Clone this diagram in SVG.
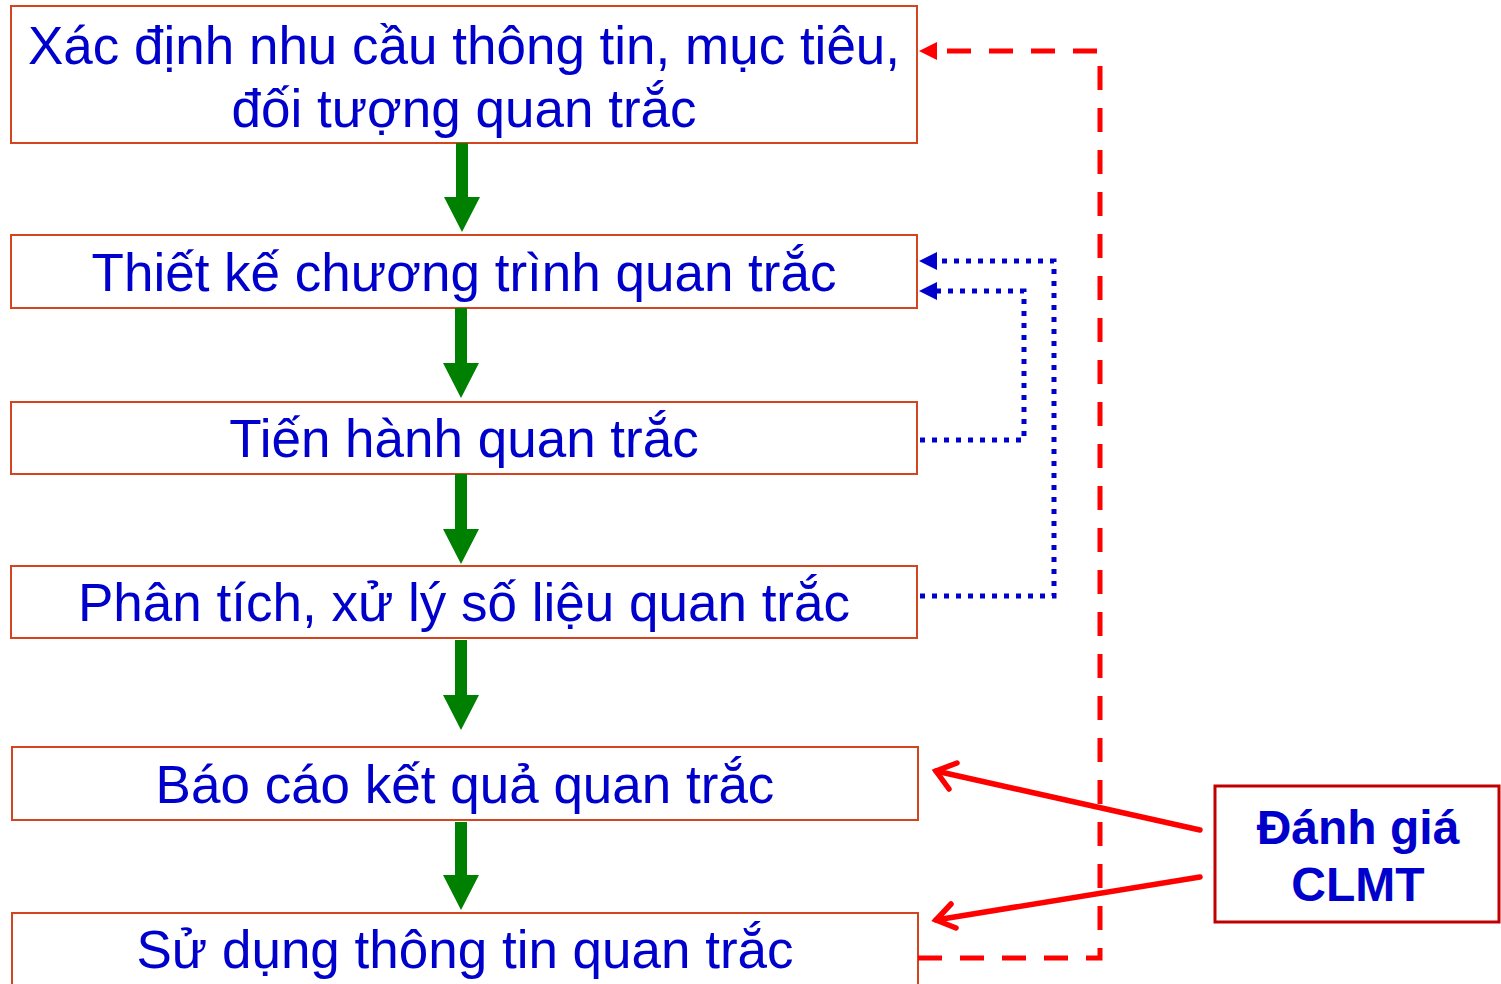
<svg xmlns="http://www.w3.org/2000/svg" width="1501" height="984" viewBox="0 0 1501 984">
  <style>
    .box { fill: #ffffff; stroke: #D2451E; stroke-width: 2; }
    .lbl { font-family: "Liberation Sans", Arial, sans-serif; font-size: 53px; fill: #0000CC; text-anchor: middle; }
    .eval { fill: #ffffff; stroke: #C00000; stroke-width: 3; }
    .evlbl { font-family: "Liberation Sans", Arial, sans-serif; font-size: 48px; font-weight: bold; fill: #0000CC; text-anchor: middle; }
    .flow { fill: #008000; }
    .fb { fill: none; stroke: #FF0000; stroke-width: 5; stroke-dasharray: 24 18; }
    .dot { fill: none; stroke: #0000CC; stroke-width: 5; stroke-dasharray: 5 7; }
    .ev { fill: none; stroke: #FF0000; stroke-width: 5.5; stroke-linecap: round; }
  </style>

  <g id="node-xac-dinh">
    <rect class="box" x="11" y="6" width="906" height="137"/>
    <text class="lbl" x="464" y="64">Xác định nhu cầu thông tin, mục tiêu,</text>
    <text class="lbl" x="464" y="127">đối tượng quan trắc</text>
  </g>
  <g id="node-thiet-ke">
    <rect class="box" x="11" y="235" width="906" height="73"/>
    <text class="lbl" x="464" y="291">Thiết kế chương trình quan trắc</text>
  </g>
  <g id="node-tien-hanh">
    <rect class="box" x="11" y="402" width="906" height="72"/>
    <text class="lbl" x="464" y="457">Tiến hành quan trắc</text>
  </g>
  <g id="node-phan-tich">
    <rect class="box" x="11" y="566" width="906" height="72"/>
    <text class="lbl" x="464" y="621">Phân tích, xử lý số liệu quan trắc</text>
  </g>
  <g id="node-bao-cao">
    <rect class="box" x="12" y="747" width="906" height="73"/>
    <text class="lbl" x="465" y="803">Báo cáo kết quả quan trắc</text>
  </g>
  <g id="node-su-dung">
    <rect class="box" x="12" y="913" width="906" height="90"/>
    <text class="lbl" x="465" y="968">Sử dụng thông tin quan trắc</text>
  </g>
  <g id="node-danh-gia">
    <rect class="eval" x="1215" y="786" width="284" height="136"/>
    <text class="evlbl" x="1358" y="844">Đánh giá</text>
    <text class="evlbl" x="1358" y="901">CLMT</text>
  </g>

  <g id="connectors">
    <!-- main flow, block arrows -->
    <path class="flow" d="M456,143 H468 V197 H480 L462,232 L444,197 H456 Z"/>
    <path class="flow" d="M455,308 H467 V363 H479 L461,398 L443,363 H455 Z"/>
    <path class="flow" d="M455,474 H467 V529 H479 L461,564 L443,529 H455 Z"/>
    <path class="flow" d="M455,640 H467 V695 H479 L461,730 L443,695 H455 Z"/>
    <path class="flow" d="M455,822 H467 V875 H479 L461,910 L443,875 H455 Z"/>

    <!-- feedback from use back to objectives -->
    <path class="fb" d="M918,958 H1100 V51 H936"/>
    <path d="M937,42 L919,51 L937,60 Z" fill="#FF0000"/>

    <!-- dotted feedback loops to design -->
    <path class="dot" d="M920,596 H1054 V261 H936"/>
    <path d="M937,252 L919,261 L937,270 Z" fill="#0000CC"/>
    <path class="dot" d="M920,440 H1024 V291 H936"/>
    <path d="M937,282 L919,291 L937,300 Z" fill="#0000CC"/>

    <!-- assessment inputs -->
    <path class="ev" d="M1200,830 L936,771"/>
    <path class="ev" d="M957,763 L936,771 L949,789"/>
    <path class="ev" d="M1200,877 L936,920"/>
    <path class="ev" d="M951,904 L936,920 L956,928"/>
  </g>
</svg>
